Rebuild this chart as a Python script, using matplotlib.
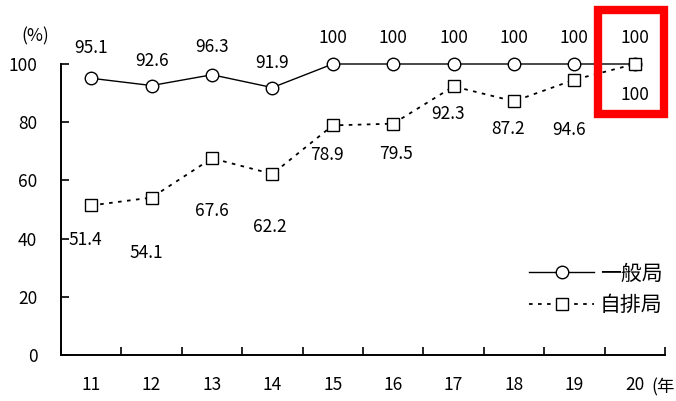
import matplotlib
matplotlib.use("Agg")
import matplotlib.pyplot as plt
from matplotlib.patches import Rectangle

plt.rcParams['font.family'] = ['Noto Sans CJK JP', 'DejaVu Sans']

years = ["11", "12", "13", "14", "15", "16", "17", "18", "19", "20"]
general = [95.1, 92.6, 96.3, 91.9, 100, 100, 100, 100, 100, 100]
roadside = [51.4, 54.1, 67.6, 62.2, 78.9, 79.5, 92.3, 87.2, 94.6, 100]
general_label = "一般局"
roadside_label = "自排局"
yticks = [0, 20, 40, 60, 80, 100]

# label offsets in points (dx, dy)
gen_off = [(0, 22), (0, 18), (0, 20), (0, 18), (0, 19), (0, 19), (0, 19), (0, 19), (0, 19), (0, 19)]
road_off = [(-4, -25), (-4, -40), (0, -38), (-2, -38), (-4, -21), (2, -22), (-4, -20), (-4, -20), (-4, -36), (0, -22)]

fs = 12.5

fig = plt.figure(figsize=(6.76, 4.01), dpi=100)
ax = fig.add_axes([0.0902, 0.1147, 0.8935, 0.7257])

x = list(range(len(years)))
ax.plot(x, general, color='black', lw=1.0, marker='o', ms=9, mfc='white', mec='black',
        mew=1.0, clip_on=False, label=general_label, zorder=3)
ax.plot(x, roadside, color='black', lw=1.3, ls=(0, (2, 3)), marker='s', ms=8.5, mfc='white',
        mec='black', mew=1.0, clip_on=False, label=roadside_label, zorder=3)

for i, v in enumerate(general):
    ax.annotate(f"{v:g}", (i, v), xytext=gen_off[i], textcoords='offset points',
                ha='center', va='center', fontsize=fs)
for i, v in enumerate(roadside):
    ax.annotate(f"{v:g}", (i, v), xytext=road_off[i], textcoords='offset points',
                ha='center', va='center', fontsize=fs)

ax.set_xlim(-0.5, len(years) - 0.5)
ax.set_ylim(0, 100)
ax.set_yticks(yticks)
ax.set_yticklabels([str(t) for t in yticks], fontsize=fs)
ax.set_xticks(x)
ax.set_xticklabels(years, fontsize=fs)
ax.set_xticks([i - 0.5 for i in range(len(years) + 1)], minor=True)
ax.tick_params(axis='x', which='major', length=0, pad=15)
ax.tick_params(axis='x', which='minor', direction='in', length=6, width=1.2)
ax.tick_params(axis='y', direction='in', length=6, width=1.2, pad=17)
for s in ['top', 'right']:
    ax.spines[s].set_visible(False)
for s in ['left', 'bottom']:
    ax.spines[s].set_linewidth(1.4)

leg = ax.legend(loc='lower right', bbox_to_anchor=(1.01, 0.105), frameon=False, fontsize=15,
                handlelength=3.1, labelspacing=0.45, handletextpad=0.3, borderaxespad=0)

fig.text(0.052, 0.91, "(%)", fontsize=fs, ha='center', va='center')
fig.text(0.963, 0.033, "(年", fontsize=fs, ha='left', va='center')

fig.patches.append(Rectangle((0.885, 0.715), 0.097, 0.26, transform=fig.transFigure,
                             fill=False, edgecolor='#ff0000', lw=6, zorder=10))

fig.savefig("out.png", dpi=100)
